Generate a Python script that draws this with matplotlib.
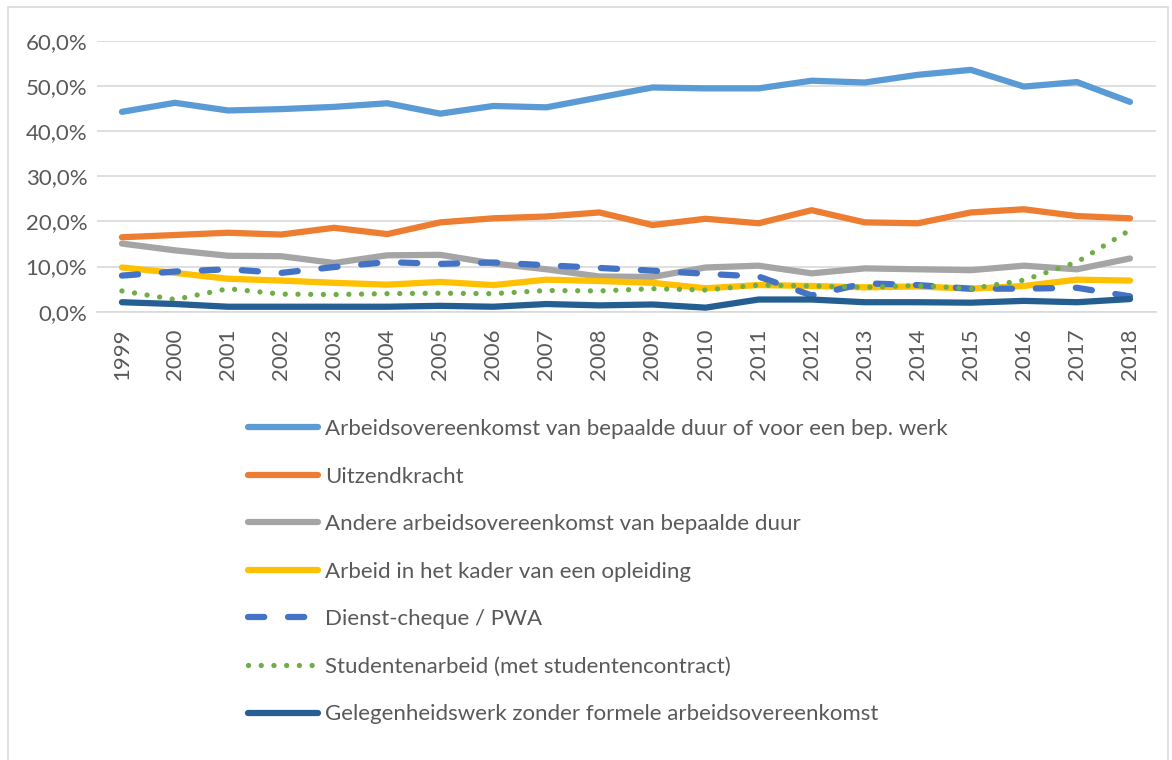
import matplotlib.pyplot as plt
from matplotlib.patches import Rectangle
from matplotlib.ticker import FuncFormatter

years = [str(y) for y in range(1999, 2019)]

bepaalde_duur = [44.3, 46.3, 44.6, 44.9, 45.4, 46.2, 43.9, 45.6, 45.3, 47.5,
                 49.7, 49.5, 49.5, 51.2, 50.8, 52.5, 53.6, 49.9, 50.9, 46.5]
uitzendkracht = [16.5, 17.0, 17.5, 17.1, 18.6, 17.2, 19.8, 20.7, 21.1, 22.0,
                 19.2, 20.6, 19.6, 22.5, 19.8, 19.6, 22.0, 22.7, 21.2, 20.7]
andere = [15.1, 13.6, 12.4, 12.3, 10.8, 12.5, 12.6, 10.7, 9.4, 7.8,
          7.7, 9.8, 10.2, 8.5, 9.6, 9.4, 9.2, 10.2, 9.4, 11.8]
opleiding = [9.8, 8.6, 7.3, 6.9, 6.4, 6.0, 6.6, 5.9, 7.1, 6.8,
             6.4, 5.2, 5.9, 5.7, 5.4, 5.6, 5.1, 5.7, 7.1, 6.9]
dienstcheque = [8.0, 8.9, 9.4, 8.6, 9.9, 11.0, 10.6, 10.9, 10.3, 9.7,
                9.1, 8.4, 7.8, 3.6, 6.3, 5.9, 5.1, 5.1, 5.3, 3.4]
studenten = [4.6, 2.7, 5.1, 3.9, 3.8, 4.0, 4.1, 4.0, 4.7, 4.6,
             5.1, 4.8, 5.9, 5.7, 5.4, 5.8, 5.1, 7.0, 11.0, 18.1]
gelegenheid = [2.1, 1.7, 1.1, 1.1, 1.1, 1.1, 1.3, 1.1, 1.7, 1.4,
               1.6, 0.9, 2.7, 2.7, 2.1, 2.1, 2.0, 2.4, 2.1, 2.8]

labels = [
    "Arbeidsovereenkomst van bepaalde duur of voor een bep. werk",
    "Uitzendkracht",
    "Andere arbeidsovereenkomst van bepaalde duur",
    "Arbeid in het kader van een opleiding",
    "Dienst-cheque / PWA",
    "Studentenarbeid (met studentencontract)",
    "Gelegenheidswerk zonder formele arbeidsovereenkomst",
]

plt.rcParams['font.family'] = ['Lato', 'DejaVu Sans']
text_col = '#595959'
fs = 16

fig = plt.figure(figsize=(11.72, 7.6), dpi=100)
fig.patches.append(Rectangle((8 / 1172, -0.01), 1160 / 1172, 1 - 7 / 760 + 0.01,
                             transform=fig.transFigure, fill=False,
                             edgecolor='#D9D9D9', lw=1.2))

ax = fig.add_axes([97 / 1172, 1 - 311.7 / 760, 1059 / 1172, 270.7 / 760])
x = list(range(len(years)))
lw = 4.5

series = [
    (bepaalde_duur, '#5B9BD5', '-'),
    (uitzendkracht, '#ED7D31', '-'),
    (andere, '#A5A5A5', '-'),
    (opleiding, '#FFC000', '-'),
    (dienstcheque, '#4472C4', (0, (2.6, 3.8))),
    (studenten, '#70AD47', (0, (0.01, 2.4))),
    (gelegenheid, '#255E91', '-'),
]
handles = []
for (vals, col, ls), lab in zip(series, labels):
    w = 3.8 if col == '#70AD47' else lw
    h, = ax.plot(x, vals, color=col, lw=w, ls=ls, label=lab,
                 solid_capstyle='round', dash_capstyle='round',
                 solid_joinstyle='round', clip_on=False)
    handles.append(h)

ax.set_xlim(-0.47, 19.49)
ax.set_ylim(0, 60)
ax.set_yticks(range(0, 61, 10))
ax.yaxis.set_major_formatter(FuncFormatter(lambda v, p: f"{v:.1f}%".replace('.', ',')))
ax.set_xticks(x)
ax.set_xticklabels(years, rotation=90)
ax.grid(axis='y', color='#D9D9D9', lw=1.2)
ax.set_axisbelow(True)
for s in ['top', 'right', 'left']:
    ax.spines[s].set_visible(False)
ax.spines['bottom'].set_color('#D9D9D9')
ax.spines['bottom'].set_linewidth(1.2)
ax.tick_params(axis='both', length=0, labelsize=fs, colors=text_col)
ax.tick_params(axis='y', pad=7)
ax.tick_params(axis='x', pad=12)

fig.legend(handles, labels, loc='upper left', bbox_to_anchor=(248 / 1172, 1 - 419 / 760),
           frameon=False, fontsize=fs, labelcolor=text_col, handlelength=3.15,
           handletextpad=0.3, labelspacing=1.24, borderpad=0, borderaxespad=0)

fig.savefig('out.png', dpi=100)
